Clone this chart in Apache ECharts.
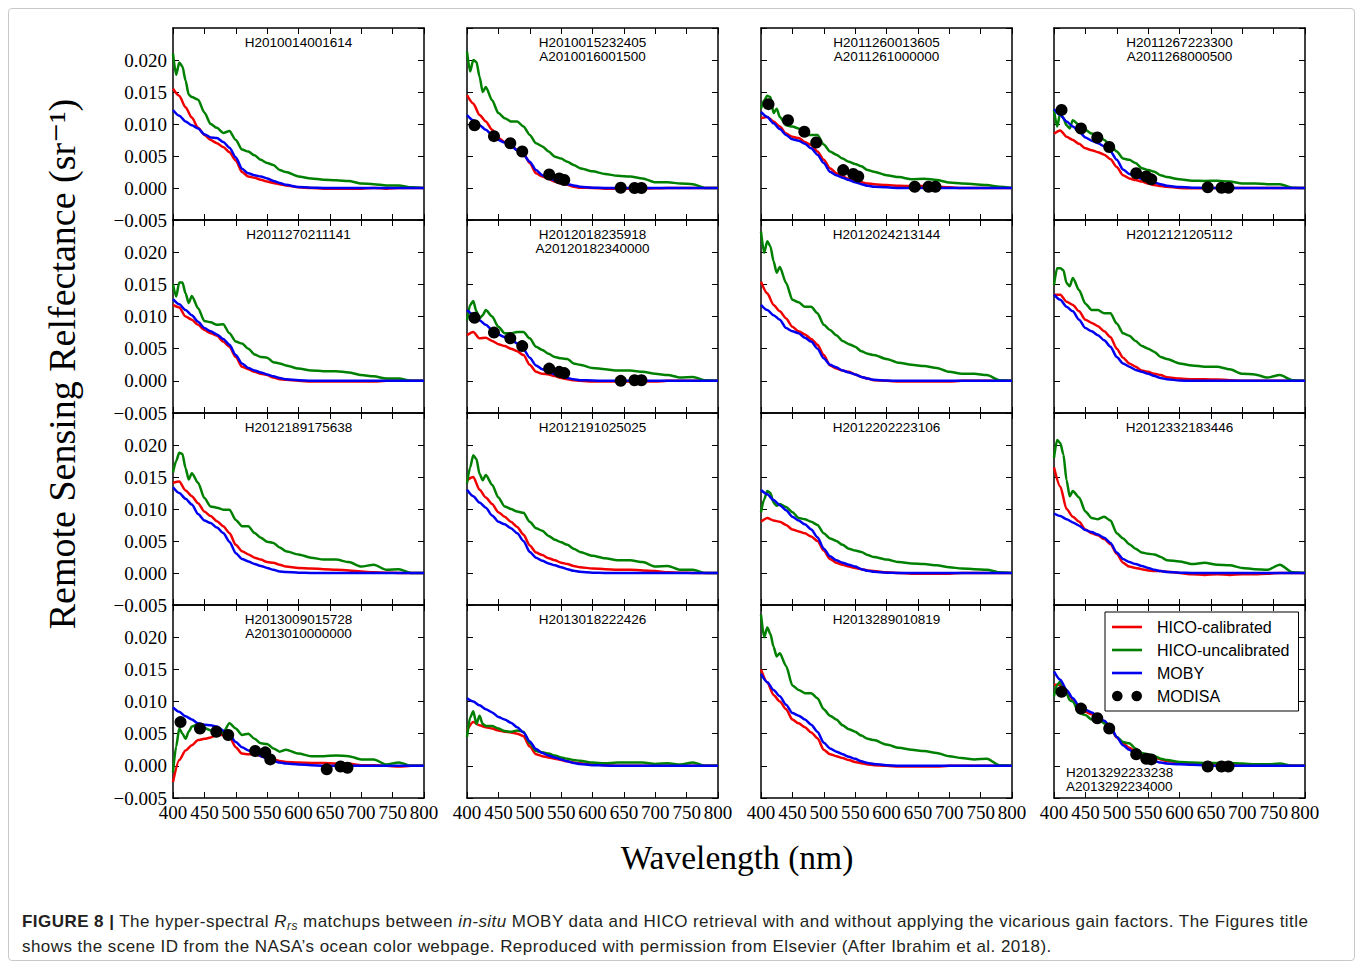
<!DOCTYPE html>
<html><head><meta charset="utf-8">
<script src="https://cdn.jsdelivr.net/npm/echarts@6/dist/echarts.min.js"></script>
<style>
html,body{margin:0;padding:0;background:#fff;}
#wrap{position:relative;width:1362px;height:968px;overflow:hidden;}
#frame{position:absolute;left:8px;top:8px;width:1345px;height:951px;border:1px solid #c9c9c9;border-radius:4px;}
#chart{position:absolute;left:0;top:0;width:1362px;height:968px;}
#caption{position:absolute;left:22px;top:909px;font-family:"Liberation Sans",Arial,sans-serif;font-size:17px;letter-spacing:0.45px;line-height:25px;color:#231f20;white-space:nowrap;}
#caption sub{font-size:12px;line-height:0;vertical-align:-3px;}
</style></head><body>
<div id="wrap"><div id="frame"></div><div id="chart"></div>
<div id="caption"><b>FIGURE 8 |</b> The hyper-spectral <i>R<sub>rs</sub></i> matchups between <i>in-situ</i> MOBY data and HICO retrieval with and without applying the vicarious gain factors. The Figures title<br>shows the scene ID from the NASA’s ocean color webpage. Reproduced with permission from Elsevier (After Ibrahim et al. 2018).</div>
</div>
<script>
// wavelengths (nm)
const WL_UNC = [400,405,410,415,420,425,430,440,450,460,470,480,490,500,510,520,530,540,550,560,570,580,600,620,640,660,680,700,720,740,760,780,800];
const WL = [400,410,420,430,440,450,460,470,480,490,500,510,520,530,540,550,560,570,580,600,620,640,660,680,700,720,740,760,780,800];
const MODIS_BANDS = [412,443,469,488,531,547,555,645,667,678];
const X_MIN = 400, X_MAX = 800, X_STEP = 50;
const Y_MIN = -0.005, Y_MAX = 0.025, Y_STEP = 0.005;
const SCENE_IDS = [
 'H2010014001614','H2010015232405\nA2010016001500','H2011260013605\nA2011261000000','H2011267223300\nA2011268000500',
 'H2011270211141','H2012018235918\nA20120182340000','H2012024213144','H2012121205112',
 'H2012189175638','H2012191025025','H2012202223106','H2012332183446',
 'H2013009015728\nA2013010000000','H2013018222426','H2013289010819','H2013292233238\nA2013292234000'];
const SERIES_NAMES = ['HICO-calibrated','HICO-uncalibrated','MOBY','MODISA'];

// panel 1
const p1_unc = [.021,.0177,.0196,.019,.0168,.0146,.0142,.0138,.0118,.0100,.0094,.0086,.0089,.0075,.0060,.0057,.0051,.0044,.0039,.0036,.0028,.0025,.0018,.0015,.0013,.0012,.0011,.0007,.0006,.0004,.0004,.0001,0];
const p1_cal = [.0155,.0144,.0126,.0110,.0094,.0083,.0075,.0070,.0064,.0056,.0043,.0025,.0018,.0016,.0013,.0010,.0008,.0006,.0004,.0001,0,-.0001,-.0001,-.0001,-.0001,0,-.0001,0,0,0];
const p1_moby = [.0122,.0113,.0104,.0098,.0093,.0084,.0079,.0078,.0072,.0063,.0048,.0030,.0023,.0020,.0018,.0015,.0011,.0008,.0005,.00015,.00005,0,0,0,0,0,0,0,0,0];
// panel 2
const p2_unc = [.0213,.0182,.0200,.0197,.0174,.0150,.0158,.0137,.0117,.0109,.0104,.0104,.0096,.0083,.0070,.0065,.0057,.0049,.0046,.0041,.0036,.0031,.0026,.0022,.0019,.0018,.0015,.0009,.0009,.0007,.0006,0,0];
const p2_cal = [.0145,.0132,.0114,.0104,.0091,.0078,.0072,.0067,.0059,.0054,.0039,.0023,.0018,.0014,.0010,.0007,.0005,.0002,.00005,0,-.0001,-.0001,-.0001,-.0001,-.00005,0,0,0,0,0];
const p2_moby = [.0114,.0106,.0098,.0091,.0083,.0075,.0071,.0066,.0059,.0052,.0041,.0028,.0020,.0015,.00125,.0009,.0006,.0004,.0002,.00005,0,0,0,0,0,0,0,0,0,0];
const p2_modis = [.0098,.0081,.0070,.0057,.0021,.0015,.00125,.00005,0,0];
// panel 3
const p3_unc = [.0124,.0137,.0144,.0142,.0117,.0124,.0111,.0098,.0096,.0093,.0083,.0083,.0083,.0068,.0057,.0052,.0046,.0041,.00375,.0034,.0028,.00255,.0020,.0017,.00135,.00145,.00125,.00085,.0007,.0006,.00045,.0002,0];
const p3_cal = [.0109,.0111,.0104,.0096,.0085,.0080,.0078,.0072,.0067,.0057,.0044,.0031,.0023,.0018,.0014,.0011,.0009,.0007,.0006,.00045,.00035,.0003,.0003,.0002,.0001,0,0,0,0,0];
const p3_moby = [.0119,.0111,.0101,.0092,.0083,.0076,.0074,.0069,.0062,.0052,.0039,.00255,.0020,.0016,.00125,.0009,.0006,.00035,.0002,.0001,0,0,0,0,0,0,0,0,0,0];
const p3_modis = [.0131,.0106,.0088,.0071,.0028,.0022,.0018,.0002,.0002,.0002];
// panel 4
const p4_unc = [.0122,.0096,.0117,.0109,.0098,.0093,.0106,.0098,.0091,.0085,.0083,.0075,.0067,.0057,.0046,.0044,.0039,.0031,.0028,.00255,.0020,.0017,.00135,.00115,.0011,.00115,.0010,.0007,.0007,.0006,.0006,.00005,0];
const p4_cal = [.0085,.0090,.0080,.0075,.0069,.0062,.0059,.0056,.0052,.0045,.0033,.0020,.0015,.00125,.0010,.0007,.00045,.0003,.0002,0,-.00005,-.00005,0,0,0,0,0,0,0,0];
const p4_moby = [.0123,.0114,.0104,.0096,.0088,.0079,.0074,.0070,.0065,.0057,.0044,.0029,.0022,.0018,.00145,.0011,.00085,.0006,.00035,.00015,.00005,0,0,0,0,0,0,0,0,0];
const p4_modis = [.0122,.0093,.0079,.0064,.0023,.0018,.00135,.0001,.00005,.00005];
// panel 5
const p5_unc = [.0150,.0131,.0153,.0153,.0136,.0121,.0132,.0113,.0093,.0091,.0087,.0088,.0074,.0061,.0058,.0050,.0041,.0037,.0036,.0029,.0027,.0024,.0019,.0016,.0015,.0015,.0013,.0009,.0007,.00035,.00035,0,0];
const p5_cal = [.0118,.0114,.0100,.0095,.0087,.0079,.0074,.0070,.0061,.0053,.0037,.0022,.0018,.0014,.0011,.0009,.0005,.00025,.00015,0,-.0001,-.0001,-.0001,-.0001,-.0001,-.0001,0,0,0,0];
const p5_moby = [.0127,.0119,.0110,.0102,.0092,.0082,.0077,.0072,.0065,.0056,.0040,.0027,.0020,.0016,.0013,.0010,.0007,.00045,.00025,.0001,0,0,0,0,0,0,0,0,0,0];
// panel 6
const p6_unc = [.0094,.0118,.0124,.0108,.0097,.0102,.0110,.0100,.0084,.0074,.0074,.0076,.0076,.0066,.0053,.0048,.0042,.0037,.0035,.0034,.0027,.0025,.0020,.0018,.0016,.0016,.0014,.0011,.0009,.0005,.0006,.0001,0];
const p6_cal = [.0071,.0076,.0066,.0067,.0062,.0057,.0054,.0050,.0046,.0040,.0025,.0014,.0011,.0010,.00075,.00045,.00025,.0001,0,-.0001,-.0001,-.0001,-.0001,-.0001,-.0001,0,0,0,0,0];
const p6_moby = [.0110,.0103,.0094,.0087,.0079,.0072,.0068,.0065,.0058,.0049,.0036,.0024,.0018,.0014,.0010,.00075,.00045,.00025,.0001,.00005,0,0,0,0,0,0,0,0,0,0];
const p6_modis = [.0098,.0075,.0066,.0054,.0019,.0014,.0012,0,.0001,.0001];
// panel 7
const p7_unc = [.0232,.0199,.0217,.0209,.0186,.0168,.0177,.0152,.0126,.0122,.0115,.0115,.0105,.0087,.0079,.0071,.0062,.0057,.0053,.0046,.0042,.0040,.0034,.0028,.0025,.0023,.0020,.0014,.0011,.0011,.0009,.0001,0];
const p7_cal = [.0154,.0136,.0118,.0108,.0097,.0084,.0077,.0072,.0065,.0056,.0040,.0024,.0019,.0016,.0014,.0010,.0006,.00035,.0001,0,-.0001,-.0001,-.0001,-.0001,-.0001,0,0,0,0,0];
const p7_moby = [.0118,.0110,.0102,.0095,.0082,.0077,.0074,.0067,.0061,.0050,.0035,.0025,.0021,.0016,.0013,.0010,.0006,.00035,.00015,.00005,0,0,0,0,0,0,0,0,0,0];
// panel 8
const p8_unc = [.0149,.0175,.0175,.0172,.0152,.0147,.0160,.0141,.0120,.0110,.0110,.0105,.0105,.0089,.0074,.0070,.0062,.0054,.0050,.0045,.0037,.0034,.0027,.0024,.0022,.0022,.0018,.0011,.0010,.0005,.0009,.0001,0];
const p8_cal = [.0134,.0134,.0123,.0118,.0108,.0095,.0090,.0085,.0077,.0068,.0050,.0036,.0027,.0022,.0016,.0014,.0011,.0009,.00055,.00035,.00025,.00025,.0002,.0001,0,0,0,0,0,0];
const p8_moby = [.0134,.0126,.0115,.0108,.0095,.0082,.0077,.0071,.0063,.0053,.0037,.0027,.0022,.0017,.0014,.0011,.00075,.00045,.00025,.00005,0,0,0,0,0,0,0,0,0,0];
// panel 9
const p9_unc = [.0157,.0175,.0188,.0186,.0164,.0146,.0156,.0141,.0117,.0104,.0102,.0099,.0099,.0083,.0073,.0073,.00625,.0055,.0049,.0047,.0040,.0034,.0029,.0024,.0021,.0021,.0017,.0010,.0013,.0005,.0006,0,0];
const p9_cal = [.0141,.0143,.0129,.0120,.0109,.0096,.0089,.0081,.0073,.00625,.0044,.0034,.0029,.0024,.0021,.0017,.0016,.0013,.0010,.0008,.0007,.0006,.0005,.0004,.00025,.0001,.00005,0,0,0];
const p9_moby = [.0134,.0125,.0116,.0107,.0092,.0082,.0078,.0071,.00625,.0049,.0031,.0022,.0018,.0014,.0011,.0008,.0005,.00025,.00015,.00005,0,0,0,0,0,0,0,0,0,0];
// panel 10
const p10_unc = [.0140,.0165,.0184,.0178,.0155,.0145,.0153,.0138,.0118,.0104,.0100,.0096,.0094,.0080,.0070,.0066,.0058,.0052,.0048,.0044,.0038,.0033,.0027,.0023,.0020,.0020,.0017,.0010,.0011,.0005,.0005,0,0];
const p10_cal = [.0145,.0150,.0130,.0118,.0108,.0095,.0088,.0080,.0072,.0060,.0043,.0032,.0028,.0023,.0020,.0016,.0014,.0011,.0009,.0007,.0006,.0005,.0005,.0004,.0003,.0001,.00005,0,0,0];
const p10_moby = [.0130,.0120,.0110,.0102,.0090,.0080,.0076,.0070,.0062,.0050,.0033,.0024,.0019,.0015,.0012,.0009,.0006,.00035,.0002,.00005,0,0,0,0,0,0,0,0,0,0];
// panel 11
const p11_unc = [.0095,.0115,.0128,.0125,.0110,.0105,.0108,.0103,.0095,.0086,.0084,.0080,.0075,.0062,.0054,.0050,.0044,.0038,.0035,.0033,.0028,.0025,.0021,.0017,.0015,.0014,.0012,.0009,.0007,.0006,.0005,.0001,0];
const p11_cal = [.0080,.0086,.0082,.0080,.0075,.0068,.0065,.0062,.0057,.0050,.0035,.0022,.0016,.0013,.0010,.0008,.0006,.0004,.0003,.0001,0,-.0001,-.0001,-.0001,-.0001,0,0,0,0,0];
const p11_moby = [.0130,.0123,.0114,.0106,.0098,.0088,.0082,.0076,.0068,.0056,.0038,.0026,.0020,.0016,.0013,.0010,.0006,.00035,.0002,.00005,0,0,0,0,0,0,0,0,0,0];
// panel 12
const p12_unc = [.0180,.0208,.0203,.0185,.0145,.0120,.0128,.0118,.0096,.0086,.0084,.0088,.0082,.0062,.0054,.0045,.0038,.0032,.0030,.0029,.0025,.0020,.0018,.0014,.0016,.0013,.0012,.0008,.0006,.0005,.0013,.0001,0];
const p12_cal = [.0165,.0135,.0100,.0088,.0080,.0068,.0062,.0059,.0053,.0045,.0030,.0016,.0010,.0008,.0006,.0004,.0003,.0003,.0002,0,-.0002,-.0003,-.0002,-.0003,-.0002,-.0002,-.0001,0,0,0];
const p12_moby = [.0093,.0089,.0084,.0079,.0074,.0067,.0064,.0060,.0055,.0047,.0032,.0022,.0017,.0014,.0011,.0008,.0005,.0003,.00015,.00005,0,0,0,0,0,0,0,0,0,0];
// panel 13
const p13_unc = [-.0010,.0030,.0058,.0050,.0042,.0053,.0061,.0065,.0059,.0055,.0053,.0052,.0066,.0058,.0048,.0050,.0042,.0035,.0034,.0027,.0022,.0025,.0019,.0015,.0015,.0016,.0015,.0010,.0010,.0002,.0005,0,0];
const p13_cal = [-.0025,.0009,.0024,.0032,.0040,.0042,.0044,.0048,.0048,.0045,.0029,.0019,.0018,.0018,.0015,.0013,.0010,.00075,.0006,.0005,.00045,.00045,.00035,.00035,.0001,.0001,0,-.0001,0,0];
const p13_moby = [.0091,.0084,.0077,.0072,.0066,.0064,.0063,.0061,.0055,.0048,.0037,.0029,.0024,.0020,.0015,.0011,.00075,.0005,.00035,.0002,.0001,0,0,0,0,0,0,0,0,0];
const p13_modis = [.0068,.0058,.0053,.0048,.0023,.0021,.0010,-.00055,-.0001,-.0003];
// panel 14
const p14_unc = [.0045,.0075,.0085,.0065,.0078,.0065,.0062,.0062,.0058,.0054,.0053,.0055,.0053,.0035,.0023,.0021,.0019,.0016,.0013,.0011,.0009,.0008,.0005,.0004,.0005,.0005,.0005,.0003,.0004,.0002,.0005,0,0];
const p14_cal = [.0055,.0068,.0063,.0060,.0058,.0055,.0053,.0052,.0050,.0046,.0030,.0018,.0015,.0013,.0011,.0009,.0007,.0005,.0004,.0002,.0001,0,0,0,0,0,0,0,0,0];
const p14_moby = [.0105,.0100,.0094,.0088,.0083,.0076,.0072,.0067,.0060,.0052,.0038,.0026,.0020,.0016,.0013,.0010,.0007,.00045,.0003,.0001,.00005,0,0,0,0,0,0,0,0,0];
// panel 15
const p15_unc = [.0235,.0200,.0215,.0205,.0185,.0170,.0175,.0155,.0125,.0118,.0113,.0113,.0105,.0088,.0078,.0072,.0063,.0057,.0053,.0047,.0042,.0040,.0033,.0028,.0025,.0023,.0020,.0015,.0012,.0010,.0011,.0001,0];
const p15_cal = [.0150,.0130,.0110,.0100,.0088,.0072,.0066,.0060,.0052,.0043,.0025,.0018,.0015,.0012,.0009,.0006,.0004,.0002,.0001,0,-.0001,-.0001,-.0001,-.0001,0,0,0,0,0,0];
const p15_moby = [.0143,.0130,.0118,.0108,.0095,.0082,.0078,.0072,.0064,.0053,.0036,.0027,.0022,.0018,.0014,.0011,.0007,.00045,.0003,.0001,0,0,0,0,0,0,0,0,0,0];
// panel 16
const p16_unc = [.0108,.0126,.0131,.0121,.0113,.0102,.0100,.0082,.0079,.0072,.0076,.0066,.0058,.0045,.0037,.0035,.0027,.0020,.0018,.0015,.0011,.0009,.0006,.0005,.00045,.00045,.00045,.00035,.00025,.00025,.00035,0,0];
const p16_cal = [.0126,.0126,.0115,.0103,.0092,.0084,.0080,.0075,.0068,.0060,.0044,.0035,.0028,.0022,.0018,.0015,.0013,.0010,.00075,.0005,.00035,.00035,.00025,.0002,.0001,0,0,0,0,0];
const p16_moby = [.0147,.0134,.0118,.0105,.0093,.0087,.0083,.0077,.0070,.0061,.0045,.0032,.0025,.0019,.0015,.0011,.00075,.0005,.00035,.00025,.00015,.0001,0,0,0,0,0,0,0,0];
const p16_modis = [.0115,.0089,.0074,.0058,.0018,.0011,.0010,-.0001,-.0001,-.0001];

const PANELS = [
 {cal:p1_cal,unc:p1_unc,moby:p1_moby,modis:null},
 {cal:p2_cal,unc:p2_unc,moby:p2_moby,modis:p2_modis},
 {cal:p3_cal,unc:p3_unc,moby:p3_moby,modis:p3_modis},
 {cal:p4_cal,unc:p4_unc,moby:p4_moby,modis:p4_modis},
 {cal:p5_cal,unc:p5_unc,moby:p5_moby,modis:null},
 {cal:p6_cal,unc:p6_unc,moby:p6_moby,modis:p6_modis},
 {cal:p7_cal,unc:p7_unc,moby:p7_moby,modis:null},
 {cal:p8_cal,unc:p8_unc,moby:p8_moby,modis:null},
 {cal:p9_cal,unc:p9_unc,moby:p9_moby,modis:null},
 {cal:p10_cal,unc:p10_unc,moby:p10_moby,modis:null},
 {cal:p11_cal,unc:p11_unc,moby:p11_moby,modis:null},
 {cal:p12_cal,unc:p12_unc,moby:p12_moby,modis:null},
 {cal:p13_cal,unc:p13_unc,moby:p13_moby,modis:p13_modis},
 {cal:p14_cal,unc:p14_unc,moby:p14_moby,modis:null},
 {cal:p15_cal,unc:p15_unc,moby:p15_moby,modis:null},
 {cal:p16_cal,unc:p16_unc,moby:p16_moby,modis:p16_modis}
];

const RED='#f00000', GREEN='#008000', BLUE='#0000f0';
const SERIF='"Liberation Serif","DejaVu Serif",serif';
const SANS='"Liberation Sans",Arial,sans-serif';
const COLS=[173,467,761,1054], GW=251;
const ROWS=[28,220,413,605], GH=[192,193,192,193];

const chart = echarts.init(document.getElementById('chart'), null, {renderer:'svg'});
const grid=[], xAxis=[], yAxis=[], series=[], graphic=[];
const fmtY = v => { const a=Math.abs(v); if (a<1e-9) return '0.000'; return (v<0?'\u2212':'')+a.toFixed(3); };
const axLine = {show:true,onZero:false,lineStyle:{color:'#000',width:1.5}};
const axTick = {show:true,inside:true,length:6,lineStyle:{color:'#000',width:1}};

PANELS.forEach((p,i)=>{
  const r=Math.floor(i/4), c=i%4;
  grid.push({left:COLS[c],top:ROWS[r],width:GW,height:GH[r],outerBoundsMode:'none',containLabel:false});
  const xb={gridIndex:i,type:'value',min:X_MIN,max:X_MAX,interval:X_STEP,splitLine:{show:false},axisLine:axLine,axisTick:axTick};
  xAxis.push(Object.assign({},xb,{position:'bottom',axisLabel:{show:r===3,color:'#000',fontFamily:SERIF,fontSize:19,margin:5}}));
  xAxis.push(Object.assign({},xb,{position:'top',axisLabel:{show:false}}));
  const yb={gridIndex:i,type:'value',min:Y_MIN,max:Y_MAX,interval:Y_STEP,splitLine:{show:false},axisLine:axLine,axisTick:axTick};
  yAxis.push(Object.assign({},yb,{position:'left',axisLabel:{show:c===0,showMaxLabel:false,formatter:fmtY,color:'#000',fontFamily:SERIF,fontSize:19,margin:6}}));
  yAxis.push(Object.assign({},yb,{position:'right',axisLabel:{show:false}}));
  const xi=2*i, yi=2*i;
  const line=(name,xs,ys,col)=>({type:'line',name:name,xAxisIndex:xi,yAxisIndex:yi,data:xs.map((w,k)=>[w,ys[k]]),
    showSymbol:false,symbol:'none',smooth:0.25,smoothMonotone:'x',lineStyle:{color:col,width:2.5},itemStyle:{color:col},silent:true,z:2});
  series.push(line(SERIES_NAMES[0],WL,p.cal,RED));
  series.push(line(SERIES_NAMES[1],WL_UNC,p.unc,GREEN));
  series.push(line(SERIES_NAMES[2],WL,p.moby,BLUE));
  if (p.modis) series.push({type:'scatter',name:SERIES_NAMES[3],xAxisIndex:xi,yAxisIndex:yi,
    data:MODIS_BANDS.map((w,k)=>[w,p.modis[k]]),symbol:'circle',symbolSize:12,itemStyle:{color:'#000',opacity:1},silent:true,z:3});
  if (i<15) {
    graphic.push({type:'text',x:COLS[c]+GW/2,y:ROWS[r]+8,z:10,style:{text:SCENE_IDS[i],font:'13.5px '+SANS,fill:'#000',textAlign:'center',textVerticalAlign:'top',lineHeight:13.5}});
  } else {
    graphic.push({type:'text',x:COLS[c]+12,y:ROWS[r]+160,z:10,style:{text:SCENE_IDS[i],font:'13.5px '+SANS,fill:'#000',textAlign:'left',textVerticalAlign:'top',lineHeight:14}});
  }
});

graphic.push({type:'text',x:62,y:364,rotation:Math.PI/2,style:{text:'Remote Sensing Relfectance (sr\u207B\u00B9)',font:'38px '+SERIF,fill:'#000',textAlign:'center',textVerticalAlign:'middle'}});
graphic.push({type:'text',x:737,y:857,style:{text:'Wavelength (nm)',font:'33.5px '+SERIF,fill:'#000',textAlign:'center',textVerticalAlign:'middle'}});

const LINE_ICON='path://M0,0h30v2.6h-30z';
const DOTS_ICON='path://M6,0a6,6 0 1,1 0,12a6,6 0 1,1 0,-12zM28,0a6,6 0 1,1 0,12a6,6 0 1,1 0,-12z';

chart.setOption({
  animation:false,
  backgroundColor:'transparent',
  grid:grid, xAxis:xAxis, yAxis:yAxis, series:series, graphic:graphic,
  legend:{orient:'vertical',left:1105,top:612,padding:[7,9,7,7],itemGap:7,itemWidth:30,itemHeight:12,
    backgroundColor:'#fff',borderColor:'#000',borderWidth:1,selectedMode:false,z:20,
    itemStyle:{opacity:1},
    textStyle:{fontFamily:SANS,fontSize:16,color:'#000',padding:[0,0,0,10]},
    data:[{name:SERIES_NAMES[0],icon:LINE_ICON},{name:SERIES_NAMES[1],icon:LINE_ICON},{name:SERIES_NAMES[2],icon:LINE_ICON},{name:SERIES_NAMES[3],icon:DOTS_ICON}]}
});
</script>
</body></html>
